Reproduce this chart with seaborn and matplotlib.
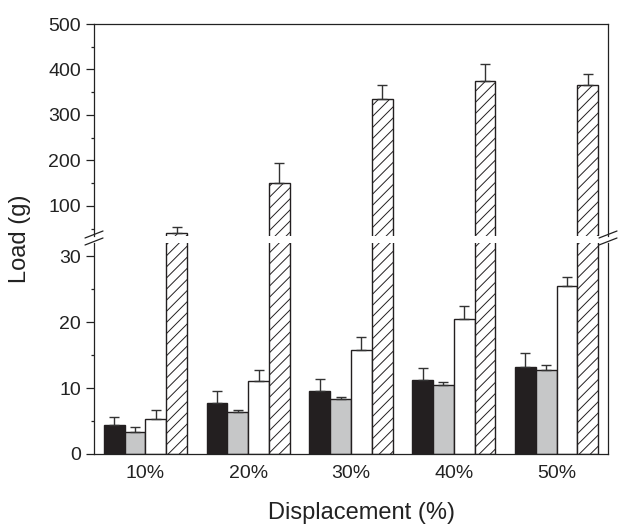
import numpy as np
import pandas as pd
import seaborn as sns
import matplotlib.pyplot as plt
from matplotlib.lines import Line2D
from matplotlib.ticker import MultipleLocator

# dados
displacement = ["10%", "20%", "30%", "40%", "50%"]
groups = ["S1", "S2", "S3", "S4"]
load_s1 = [4.4, 7.8, 9.6, 11.2, 13.2]
err_s1 = [1.2, 1.8, 1.8, 1.8, 2.1]
load_s2 = [3.3, 6.4, 8.4, 10.5, 12.8]
err_s2 = [0.8, 0.2, 0.2, 0.35, 0.7]
load_s3 = [5.35, 11.1, 15.75, 20.4, 25.5]
err_s3 = [1.25, 1.7, 2.0, 2.0, 1.4]
load_s4 = [40, 150, 336, 375, 366]
err_s4 = [13, 45, 31, 38, 25]

loads = [load_s1, load_s2, load_s3, load_s4]
errs = [err_s1, err_s2, err_s3, err_s4]
colors = ["#231f20", "#c6c7c8", "#ffffff", "#ffffff"]

df = pd.DataFrame({
    "Displacement": displacement * 4,
    "Load": load_s1 + load_s2 + load_s3 + load_s4,
    "Sample": [g for g in groups for _ in displacement],
})

sns.set_style("ticks")
plt.rcParams["font.family"] = ["Liberation Sans", "DejaVu Sans"]
plt.rcParams["hatch.color"] = "#231f20"
plt.rcParams["hatch.linewidth"] = 0.7

W, H = 630, 525
fig = plt.figure(figsize=(6.3, 5.25), dpi=100)
left, right = 94 / W, 608 / W
ax_hi = fig.add_axes([left, 1 - 236 / H, right - left, (236 - 24) / H])
ax_lo = fig.add_axes([left, 1 - 454 / H, right - left, (454 - 243) / H])

edge = "#231f20"
for ax in (ax_hi, ax_lo):
    sns.barplot(data=df, x="Displacement", y="Load", hue="Sample",
                palette=colors, width=0.81, saturation=1, errorbar=None,
                edgecolor=edge, linewidth=1.0, legend=False, ax=ax)
    for p in ax.containers[3]:
        p.set_hatch("///")
    for cont, vals, e in zip(ax.containers, loads, errs):
        xs = [p.get_x() + p.get_width() / 2 for p in cont]
        ax.errorbar(xs, vals, yerr=[np.zeros(len(e)), e], fmt="none",
                    ecolor="#333333", elinewidth=1.0, capsize=3.3,
                    capthick=1.0, zorder=3)
    ax.set_xlabel("")
    ax.set_ylabel("")
    for s in ax.spines.values():
        s.set_color("#222222")
        s.set_linewidth(0.9)
    ax.tick_params(axis="y", which="major", length=5.5, width=0.9,
                   labelsize=14, pad=4, color="#222222", labelcolor="#222222")
    ax.tick_params(axis="y", which="minor", length=2.5, width=0.9,
                   color="#222222")
    ax.set_xlim(-0.5, 4.5)

ax_hi.set_ylim(34, 500)
ax_hi.yaxis.set_major_locator(MultipleLocator(100))
ax_hi.yaxis.set_minor_locator(MultipleLocator(50))
ax_hi.spines["bottom"].set_visible(False)
ax_hi.tick_params(axis="x", bottom=False, labelbottom=False)

ax_lo.set_ylim(0, 32)
ax_lo.yaxis.set_major_locator(MultipleLocator(10))
ax_lo.yaxis.set_minor_locator(MultipleLocator(5))
ax_lo.spines["top"].set_visible(False)
ax_lo.tick_params(axis="x", length=0, labelsize=14, pad=8,
                  labelcolor="#222222")

# marcas de quebra do eixo
dx, dy = 9 / W, 3.5 / H
for xp in (94 / W, 608 / W):
    for yp in (1 - 234.5 / H, 1 - 241.5 / H):
        fig.add_artist(Line2D([xp - dx, xp + dx], [yp - dy, yp + dy],
                              color="#222222", lw=0.9))

fig.text(361 / W, 1 - 513 / H, "Displacement (%)", ha="center", va="center",
         fontsize=17, color="#222222")
fig.text(20 / W, 1 - 238.5 / H, "Load (g)", ha="center", va="center",
         rotation=90, fontsize=17, color="#222222")

fig.savefig("out.png", dpi=100)
